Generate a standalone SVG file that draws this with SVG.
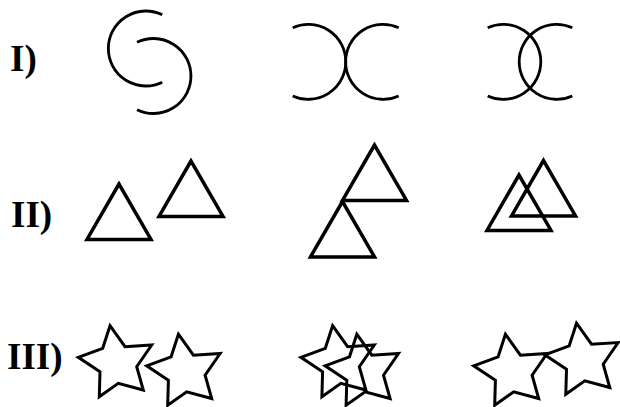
<svg xmlns="http://www.w3.org/2000/svg" xmlns:xlink="http://www.w3.org/1999/xlink" width="620" height="407" viewBox="0 0 620 407">
<style>
.lbl{font-family:"Liberation Serif","Times New Roman",serif;font-weight:bold;font-size:37px;fill:#000}
.arc{fill:none;stroke:#000;stroke-width:2.8}
.tri{fill:none;stroke:#000;stroke-width:3.5;stroke-linejoin:miter}
.star{fill:none;stroke:#000;stroke-width:3;stroke-linejoin:miter}
</style>
<defs>
<polygon id="star" points="110,325.7 125,346.7 151.7,345 136.7,366.7 143.3,390 118.3,383.3 99.3,396.7 100,371.7 78.3,357.3 102.7,348.3"/>
<polygon id="tri" points="0,0 -32,55.4 32,55.4"/>
</defs>
<rect width="620" height="407" fill="#fff"/>
<g id="labels">
<text class="lbl" x="10" y="71">I)</text>
<text class="lbl" x="11" y="227">II)</text>
<text class="lbl" x="7" y="369">III)</text>
</g>
<g id="row1">
<g id="r1f1">
<path class="arc" d="M162.3 14.8 A37.5 37.5 0 1 0 162.3 82.2"/>
<path class="arc" d="M137 42.3 A37.5 37.5 0 1 1 137 109.7"/>
</g>
<g id="r1f2">
<path class="arc" d="M292.7 27.7 A37.5 37.5 0 1 1 292.7 95.9"/>
<path class="arc" d="M398.7 27.7 A37.5 37.5 0 1 0 398.7 95.9"/>
</g>
<g id="r1f3">
<path class="arc" d="M487.7 27.7 A37.5 37.5 0 1 1 487.7 95.9"/>
<path class="arc" d="M572.3 27.7 A37.5 37.5 0 1 0 572.3 95.9"/>
</g>
</g>
<g id="row2">
<g id="r2f1">
<use href="#tri" class="tri" transform="translate(119,184)"/>
<use href="#tri" class="tri" transform="translate(191,161)"/>
</g>
<g id="r2f2">
<use href="#tri" class="tri" transform="translate(374.5,145)"/>
<use href="#tri" class="tri" transform="translate(342.5,201.5)"/>
</g>
<g id="r2f3">
<use href="#tri" class="tri" transform="translate(519,175)"/>
<use href="#tri" class="tri" transform="translate(543.5,160.5)"/>
</g>
</g>
<g id="row3">
<g id="r3f1">
<use href="#star" class="star"/>
<use href="#star" class="star" transform="translate(68.4,8.5)"/>
</g>
<g id="r3f2">
<use href="#star" class="star" transform="translate(222.6,0)"/>
<use href="#star" class="star" transform="translate(246.8,8.5)"/>
</g>
<g id="r3f3">
<use href="#star" class="star" transform="translate(395.4,8.5)"/>
<use href="#star" class="star" transform="translate(466.5,-2.5)"/>
</g>
</g>
</svg>
